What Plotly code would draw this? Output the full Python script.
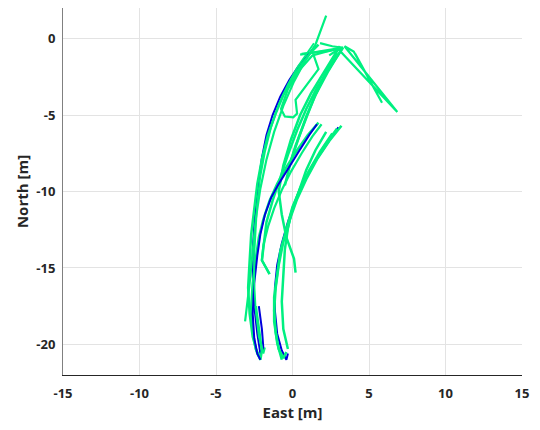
import plotly.graph_objects as go

# ---------------- data (East, North in metres) ----------------
# green (estimated) passes
g_left_e = [1.7, 1.2, 0.6, 0.0, -0.6, -1.1, -1.6, -2.0, -2.3, -2.5, -2.7, -2.8, -2.9, -2.8, -2.6, -2.3, -2.1, -2.0, -2.2, -2.4]
g_left_n = [-0.4, -0.9, -1.7, -2.6, -3.7, -4.9, -6.3, -7.9, -9.5, -11.1, -12.8, -14.5, -16.3, -18.0, -19.5, -20.6, -21.0, -20.4, -19.0, -17.5]

g_left2_e = [1.4, 0.9, 0.3, -0.3, -0.9, -1.4, -1.8, -2.1, -2.3, -2.4, -2.5, -2.5, -2.4, -2.2, -1.9, -1.8]
g_left2_n = [-0.3, -1.0, -1.9, -3.0, -4.3, -5.8, -7.4, -9.0, -10.7, -12.4, -14.2, -16.0, -17.8, -19.5, -20.6, -20.2]

g_spike_e = [2.2, 1.5, 0.8, 0.1, -0.6, -1.2, -1.7, -2.1, -2.4, -2.6, -2.8, -3.1]
g_spike_n = [1.5, -0.4, -1.5, -2.8, -4.4, -6.1, -7.9, -9.8, -11.8, -13.8, -16.0, -18.5]

g_mid_e = [1.7, 1.0, 0.3, -0.4, -1.0, -1.5, -1.9, -2.2, -2.4, -2.6, -2.7, -2.6, -2.4, -2.1]
g_mid_n = [-5.5, -6.3, -7.3, -8.4, -9.5, -10.6, -11.8, -13.0, -14.4, -16.0, -17.6, -19.2, -20.3, -20.9]

g_mid2_e = [1.9, 1.3, 0.6, -0.1, -0.7, -1.2, -1.6, -1.9, -2.0, -1.5]
g_mid2_n = [-5.6, -6.4, -7.5, -8.7, -9.9, -11.1, -12.3, -13.5, -14.5, -15.4]

g_fan1_e = [0.5, 3.3, 2.5, 1.6, 0.9, 0.3, -0.3, -0.8, -1.3, -1.7, -2.0, -1.5]
g_fan1_n = [-1.05, -0.6, -1.8, -3.2, -4.6, -6.0, -7.6, -9.1, -10.6, -12.0, -14.5, -15.4]

g_fan2_e = [3.1, 2.0, 1.2, 0.5, -0.1, -0.6, -0.9, -0.7, -0.4, 0.1, 0.2]
g_fan2_n = [-0.5, -2.3, -3.6, -5.0, -6.6, -8.3, -10.0, -11.5, -13.0, -14.4, -15.3]

g_fan3_e = [3.2, 2.3, 1.5, 0.9, 0.4, -0.1, -0.5]
g_fan3_n = [-0.7, -2.2, -3.7, -5.1, -6.5, -8.0, -9.6]

g_fan4_e = [2.9, 2.1, 1.4, 0.8, 0.2, -0.3]
g_fan4_n = [-0.9, -2.4, -3.9, -5.4, -7.0, -8.6]

g_wild_e = [2.4, 3.0, 6.85, 3.4, 4.0, 5.85, 4.1]
g_wild_n = [-1.1, -0.7, -4.8, -0.5, -0.85, -4.2, -1.0]

g_zig_e = [1.35, 1.7, 0.2, 0.3, 0.05, -0.5, -0.75, -0.3, 0.5, 1.3, 2.8]
g_zig_n = [-1.0, -2.0, -4.0, -4.9, -5.15, -5.1, -4.6, -3.3, -2.0, -1.1, -0.7]

g_top_e = [0.6, 1.5, 2.4, 3.3, 2.6, 1.8]
g_top_n = [-1.0, -0.9, -0.8, -0.6, -0.5, -0.3]

g_right1_e = [3.2, 2.4, 1.6, 0.9, 0.3, -0.2, -0.6, -0.9, -1.1, -1.2, -1.1, -0.9, -0.6, -0.4]
g_right1_n = [-5.7, -6.7, -7.9, -9.2, -10.5, -11.9, -13.3, -14.8, -16.3, -17.8, -19.2, -20.3, -20.9, -20.5]

g_right2_e = [2.9, 2.1, 1.3, 0.6, 0.0, -0.4, -0.8, -1.0, -1.2, -1.2, -1.0, -0.7]
g_right2_n = [-5.9, -7.0, -8.3, -9.6, -11.0, -12.4, -13.9, -15.4, -16.9, -18.5, -19.9, -21.0]

g_right3_e = [2.6, 1.8, 1.1, 0.5, 0.0, -0.3, -0.5, -0.6, -0.7, -0.6, -0.3]
g_right3_n = [-6.2, -7.4, -8.6, -9.8, -11.1, -12.4, -13.8, -15.4, -17.2, -19.0, -20.3]

g_right4_e = [2.2, 1.5, 0.9, 0.4, -0.1, -0.4]
g_right4_n = [-6.1, -7.3, -8.6, -10.0, -11.5, -12.8]

# blue (reference) passes
b_left_e = [1.5, 1.0, 0.4, -0.2, -0.8, -1.3, -1.7, -2.0, -2.2, -2.4, -2.5, -2.6, -2.6, -2.5, -2.3, -2.1, -1.9, -2.0, -2.2]
b_left_n = [-0.5, -1.1, -1.8, -2.7, -3.8, -5.0, -6.3, -7.8, -9.3, -10.8, -12.3, -13.8, -15.5, -17.5, -19.3, -20.6, -20.3, -19.0, -17.5]

b_mid_e = [1.6, 1.1, 0.4, -0.3, -0.9, -1.4, -1.8, -2.1, -2.3, -2.5, -2.6, -2.5, -2.3, -2.1]
b_mid_n = [-5.6, -6.3, -7.4, -8.5, -9.5, -10.4, -11.5, -12.8, -14.2, -16.0, -18.0, -19.6, -20.6, -21.0]

b_right_e = [3.0, 2.3, 1.5, 0.8, 0.2, -0.3, -0.7, -1.0, -1.15, -1.15, -1.0, -0.7, -0.4, -0.3]
b_right_n = [-5.8, -6.8, -8.0, -9.3, -10.6, -12.0, -13.4, -14.8, -16.3, -17.8, -19.3, -20.4, -21.0, -20.6]

x_ticks = [-15, -10, -5, 0, 5, 10, 15]
x_tick_text = ["-15", "-10", "-5", "0", "5", "10", "15"]
y_ticks = [-20, -15, -10, -5, 0]
y_tick_text = ["-20", "-15", "-10", "-5", "0"]

GREEN = "#00f080"
BLUE = "#0000dd"

fig = go.Figure()

def add(e, n, color, w):
    fig.add_trace(go.Scatter(x=e, y=n, mode="lines", line=dict(color=color, width=w),
                             showlegend=False, hoverinfo="skip"))

add(b_right_e, b_right_n, BLUE, 2)
add(g_right1_e, g_right1_n, GREEN, 2.5)
add(g_right2_e, g_right2_n, GREEN, 2.5)
add(g_right3_e, g_right3_n, GREEN, 2.5)
add(g_right4_e, g_right4_n, GREEN, 2.5)
add(g_wild_e, g_wild_n, GREEN, 2.2)
add(g_zig_e, g_zig_n, GREEN, 2.2)
add(g_top_e, g_top_n, GREEN, 2.2)
add(g_fan2_e, g_fan2_n, GREEN, 2.5)
add(g_fan3_e, g_fan3_n, GREEN, 2.5)
add(g_fan4_e, g_fan4_n, GREEN, 2.5)
add(g_fan1_e, g_fan1_n, GREEN, 2.5)
add(b_left_e, b_left_n, BLUE, 2)
add(g_left_e, g_left_n, GREEN, 2.5)
add(g_mid_e, g_mid_n, GREEN, 2.5)
add(b_mid_e, b_mid_n, BLUE, 2)
add(g_mid2_e, g_mid2_n, GREEN, 2.2)
add(g_left2_e, g_left2_n, GREEN, 1.8)
add(g_spike_e, g_spike_n, GREEN, 2.2)

tickfont = dict(family="Open Sans", size=13, weight="bold", color="#262626")
titlefont = dict(family="Open Sans", size=15, weight="bold", color="#262626")

# the page body adds an 8 px offset; keep the figure inside the visible page
fig.update_layout(
    width=524, height=414,
    margin=dict(l=55, r=10, t=0, b=47),
    paper_bgcolor="white", plot_bgcolor="white",
    xaxis=dict(range=[-15, 15], tickvals=x_ticks, ticktext=x_tick_text,
               showgrid=True, gridcolor="#e3e3e3", automargin=False,
               zeroline=False, showline=True, linecolor="#262626", linewidth=1,
               ticks="", tickfont=tickfont, ticklabelstandoff=6,
               ticklabeloverflow="allow",
               title=dict(text="East [m]", font=titlefont, standoff=2)),
    yaxis=dict(range=[-22, 2], tickvals=y_ticks, ticktext=y_tick_text,
               showgrid=True, gridcolor="#e3e3e3", automargin=False,
               zeroline=False, showline=True, linecolor="#808080", linewidth=1,
               ticks="", tickfont=tickfont, ticklabelstandoff=4,
               title=dict(text="North [m]", font=titlefont, standoff=4)),
)

fig.write_html("out.html")
